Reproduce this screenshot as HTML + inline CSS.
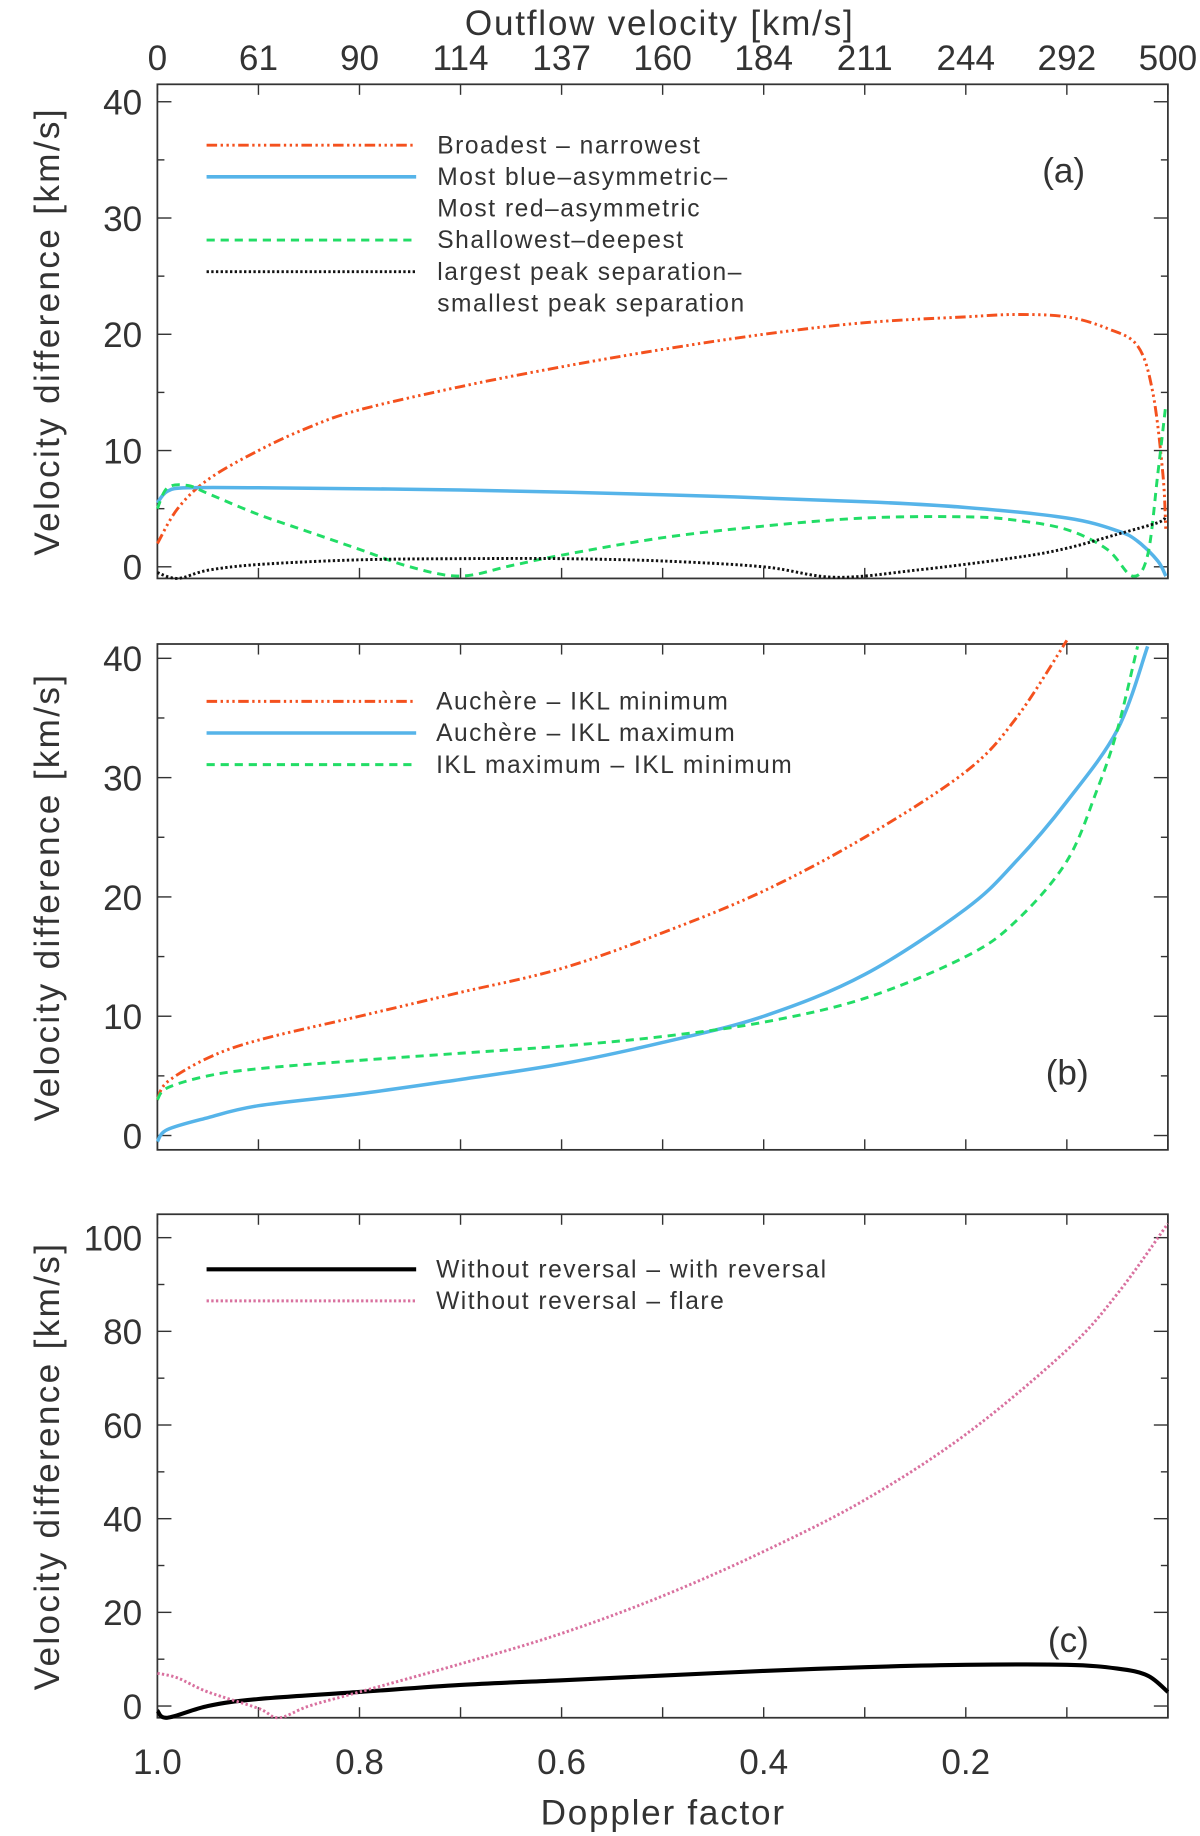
<!DOCTYPE html>
<html><head><meta charset="utf-8"><style>
html,body{margin:0;padding:0;background:#fff;}
svg{display:block;font-family:"Liberation Sans",sans-serif;}
text{fill:#333;}
</style></head><body>
<svg id="chart" width="1200" height="1836" viewBox="0 0 1024 1568" xmlns="http://www.w3.org/2000/svg">
<text x="563" y="30" text-anchor="middle" font-size="30" letter-spacing="1.5">Outflow velocity [km/s]</text>
<text x="566" y="1558" text-anchor="middle" font-size="30" letter-spacing="1.5">Doppler factor</text>
<g id="layer"></g>
</svg>
<script>
// shared x data
const topTickLabels = ["0","61","90","114","137","160","184","211","244","292","500"];
const bottomTickValues = [1.0,0.8,0.6,0.4,0.2];
const bottomTickLabels = ["1.0","0.8","0.6","0.4","0.2"];

// panel a
const aOrangeX = [1.0,0.98,0.95,0.9,0.85,0.8,0.7,0.6,0.5,0.4,0.3,0.2,0.15,0.1,0.06,0.03,0.015,0.005,0.002];
const aOrangeY = [2,5,7.5,10,12,13.5,15.5,17.2,18.7,20,21,21.5,21.7,21.5,20.5,19,15,8,3];
const aBlueX = [1.0,0.99,0.97,0.9,0.7,0.5,0.3,0.2,0.1,0.05,0.03,0.01,0.002];
const aBlueY = [5.5,6.5,6.8,6.8,6.6,6.2,5.6,5.1,4.2,3.1,2.2,0.5,-0.8];
const aGreenX = [1.0,0.99,0.97,0.95,0.9,0.85,0.8,0.75,0.7,0.65,0.6,0.5,0.4,0.3,0.2,0.15,0.1,0.06,0.035,0.02,0.01,0.002];
const aGreenY = [5,6.8,7,6.3,4.5,3,1.5,0,-0.8,0.1,1,2.5,3.5,4.2,4.3,4,3.2,1.5,-0.8,1,8,14];
const aBlackX = [1.0,0.98,0.95,0.9,0.8,0.7,0.6,0.5,0.4,0.33,0.25,0.15,0.1,0.05,0.01,0.002];
const aBlackY = [-0.5,-1,-0.3,0.2,0.6,0.7,0.7,0.5,0,-0.9,-0.3,0.8,1.6,2.8,3.8,4.3];
const aTickLabels = ["0","10","20","30","40"];
const aTickValues = [0,10,20,30,40];

// panel b
const bOrangeX = [1.0,0.99,0.95,0.9,0.8,0.7,0.6,0.5,0.4,0.3,0.2,0.15,0.1];
const bOrangeY = [3,4.5,6.5,8,10,12,14,17,20.5,25,30.5,35,41.5];
const bBlueX = [1.0,0.99,0.95,0.9,0.8,0.7,0.6,0.5,0.4,0.3,0.2,0.15,0.1,0.05,0.02];
const bBlueY = [-0.5,0.5,1.5,2.5,3.5,4.7,6,7.8,10,13.5,19,23,28,34,41];
const bGreenX = [1.0,0.99,0.95,0.9,0.8,0.7,0.6,0.5,0.4,0.3,0.2,0.15,0.1,0.07,0.05,0.03];
const bGreenY = [3,4,5,5.6,6.3,6.9,7.5,8.3,9.5,11.5,15,18,23,29,34,41];
const bTickLabels = ["0","10","20","30","40"];
const bTickValues = [0,10,20,30,40];

// panel c
const cBlackX = [1.0,0.99,0.95,0.9,0.8,0.7,0.6,0.5,0.4,0.3,0.2,0.1,0.05,0.02,0.0];
const cBlackY = [-1,-2.5,0,1.5,3,4.5,5.5,6.5,7.5,8.3,8.8,8.8,8,6.5,3];
const cPinkX = [1.0,0.98,0.95,0.9,0.88,0.85,0.8,0.7,0.6,0.5,0.4,0.3,0.2,0.1,0.05,0.0];
const cPinkY = [7,6,3,-0.5,-2.5,0,3,9,15.5,23.5,33,44,58,76,88,103];
const cTickLabels = ["0","20","40","60","80","100"];
const cTickValues = [0,20,40,60,80,100];

const NS="http://www.w3.org/2000/svg";
const layer=document.getElementById('layer');
const L=134,R=997;
function xs(d){return L+(1-d)*(R-L);}
function mk(tag,attrs,parent){const e=document.createElementNS(NS,tag);for(const k in attrs)e.setAttribute(k,attrs[k]);(parent||layer).appendChild(e);return e;}
function smooth(pts){
 let d='M'+pts[0][0].toFixed(1)+','+pts[0][1].toFixed(1);
 for(let i=0;i<pts.length-1;i++){
  const p0=pts[Math.max(0,i-1)],p1=pts[i],p2=pts[i+1],p3=pts[Math.min(pts.length-1,i+2)];
  const c1=[p1[0]+(p2[0]-p0[0])/6,p1[1]+(p2[1]-p0[1])/6];
  const c2=[p2[0]-(p3[0]-p1[0])/6,p2[1]-(p3[1]-p1[1])/6];
  d+=' C'+c1[0].toFixed(1)+','+c1[1].toFixed(1)+' '+c2[0].toFixed(1)+','+c2[1].toFixed(1)+' '+p2[0].toFixed(1)+','+p2[1].toFixed(1);
 }
 return d;
}

const panels=[
 {id:'a',top:72,bot:494,ymin:-1,ymax:41.5,ticks:aTickValues,labels:aTickLabels,minor:5,tag:'(a)',tagX:908,tagY:156,
  series:[
   {n:'broadest-narrowest',x:aOrangeX,y:aOrangeY,c:'#f4511e',w:2.5,dash:'9 3 2 3 2 3 2 3',lab:'Broadest \u2013 narrowest'},
   {n:'blue-red-asymmetric',x:aBlueX,y:aBlueY,c:'#56b4e9',w:3,dash:'',lab:'Most blue\u2013asymmetric\u2013',lab2:'Most red\u2013asymmetric'},
   {n:'shallowest-deepest',x:aGreenX,y:aGreenY,c:'#22dd66',w:2.5,dash:'7 5',lab:'Shallowest\u2013deepest'},
   {n:'peak-separation',x:aBlackX,y:aBlackY,c:'#111',w:2.5,dash:'2 2',lab:'largest peak separation\u2013',lab2:'smallest peak separation'}],
  legY:[124,151,205,232],legX:373},
 {id:'b',top:550,bot:982,ymin:-1.2,ymax:41.2,ticks:bTickValues,labels:bTickLabels,minor:5,tag:'(b)',tagX:911,tagY:926,
  series:[
   {n:'auchere-ikl-minimum',x:bOrangeX,y:bOrangeY,c:'#f4511e',w:2.5,dash:'9 3 2 3 2 3 2 3',lab:'Auch\u00e8re \u2013 IKL minimum'},
   {n:'auchere-ikl-maximum',x:bBlueX,y:bBlueY,c:'#56b4e9',w:3,dash:'',lab:'Auch\u00e8re \u2013 IKL maximum'},
   {n:'ikl-max-ikl-min',x:bGreenX,y:bGreenY,c:'#22dd66',w:2.5,dash:'7 5',lab:'IKL maximum \u2013 IKL minimum'}],
  legY:[599,626,653],legX:372},
 {id:'c',top:1037,bot:1467,ymin:-2.5,ymax:105,ticks:cTickValues,labels:cTickLabels,minor:10,tag:'(c)',tagX:912,tagY:1411,
  series:[
   {n:'without-with-reversal',x:cBlackX,y:cBlackY,c:'#000',w:3.5,dash:'',lab:'Without reversal \u2013 with reversal'},
   {n:'without-reversal-flare',x:cPinkX,y:cPinkY,c:'#d9719f',w:2.5,dash:'2 2',lab:'Without reversal \u2013 flare'}],
  legY:[1084,1111],legX:372}
];

panels.forEach(p=>{
 const g=mk('g',{});
 
 
 const ys=v=>p.bot-(v-p.ymin)/(p.ymax-p.ymin)*(p.bot-p.top);
 const fr=mk('rect',{x:L,y:p.top,width:R-L,height:p.bot-p.top,fill:'none',stroke:'#333','stroke-width':1.5},g);
 
 
 for(let i=0;i<=10;i++){const x=xs(1-i/10);
  mk('line',{x1:x,x2:x,y1:p.top,y2:p.top+9,stroke:'#333','stroke-width':1.2},g);
  mk('line',{x1:x,x2:x,y1:p.bot,y2:p.bot-9,stroke:'#333','stroke-width':1.2},g);}
 for(let v=Math.ceil(p.ymin/p.minor)*p.minor;v<=p.ymax;v+=p.minor){const y=ys(v);const maj=p.ticks.includes(v);const len=maj?12:6;
  mk('line',{x1:L,x2:L+len,y1:y,y2:y,stroke:'#333','stroke-width':1.2},g);
  mk('line',{x1:R,x2:R-len,y1:y,y2:y,stroke:'#333','stroke-width':1.2},g);}
 p.ticks.forEach((v,i)=>{const t=mk('text',{x:121,y:ys(v)+11,'text-anchor':'end','font-size':30},g);t.textContent=p.labels[i];
  
  });
 const yt=mk('text',{x:0,y:0,'text-anchor':'middle','font-size':30,'letter-spacing':'2',transform:`translate(50,${(p.top+p.bot)/2}) rotate(-90)`},g);
 yt.textContent='Velocity difference [km/s]';
 
 
 const tg=mk('text',{x:p.tagX,y:p.tagY,'text-anchor':'middle','font-size':30},g);tg.textContent=p.tag;
 
 
 p.series.forEach((s,k)=>{
  const pts=s.x.map((xv,i)=>[xs(xv),ys(s.y[i])]);
  const path=mk('path',{d:smooth(pts),fill:'none',stroke:s.c,'stroke-width':s.w,'stroke-dasharray':s.dash,'stroke-linejoin':'round'},g);
  
  
  const ly=p.legY[k];
  const ll=mk('line',{x1:176,x2:355,y1:ly,y2:ly,stroke:s.c,'stroke-width':s.w,'stroke-dasharray':s.dash},g);
  
  
  const lt=mk('text',{x:p.legX,y:ly+7,'font-size':21,'letter-spacing':'1.3'},g);lt.textContent=s.lab;
  
  
  if(s.lab2){const lt2=mk('text',{x:p.legX,y:ly+34,'font-size':21,'letter-spacing':'1.3'},g);lt2.textContent=s.lab2;
   
   }
 });
});
topTickLabels.forEach((s,i)=>{const t=mk('text',{x:xs(1-i/10),y:60,'text-anchor':'middle','font-size':30});t.textContent=s;
 
 });
bottomTickValues.forEach((v,i)=>{const t=mk('text',{x:xs(v),y:1515,'text-anchor':'middle','font-size':30});t.textContent=bottomTickLabels[i];
 
 });
</script>
</body></html>
